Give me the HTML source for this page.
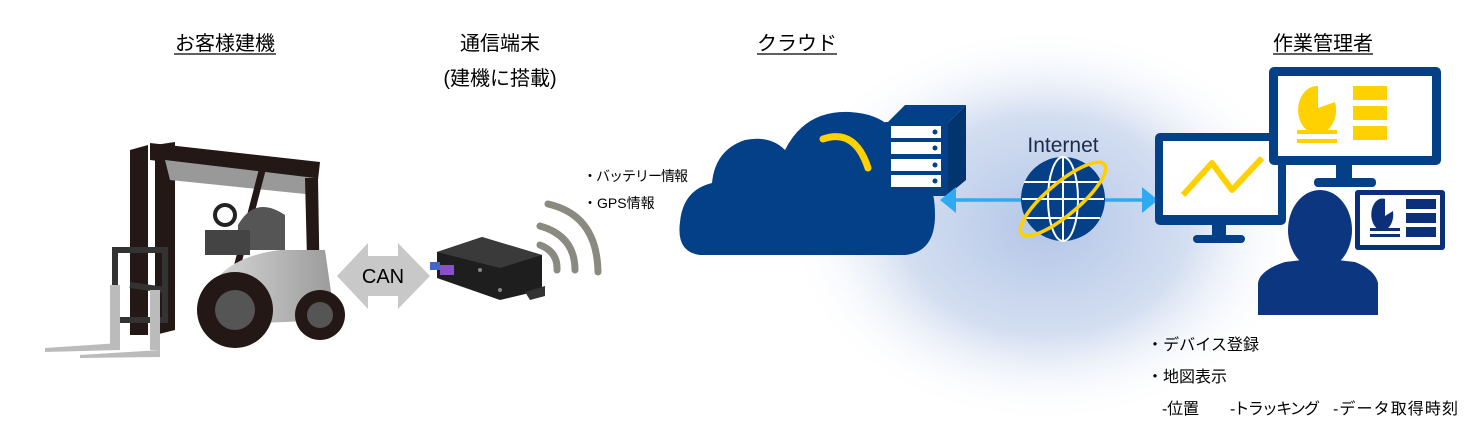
<!DOCTYPE html>
<html><head><meta charset="utf-8"><style>
html,body{margin:0;padding:0;background:#fff;}
svg{display:block;}
text{font-family:"Liberation Sans","Noto Sans CJK JP",sans-serif;fill:#000;}
</style></head><body>
<svg width="1481" height="431" viewBox="0 0 1481 431" xmlns="http://www.w3.org/2000/svg">
<defs>
<radialGradient id="glow" cx="0.5" cy="0.5" r="0.5">
<stop offset="0" stop-color="#b4c6e7"/>
<stop offset="0.55" stop-color="#d3def1"/>
<stop offset="1" stop-color="#ffffff" stop-opacity="0"/>
</radialGradient>
<linearGradient id="body" x1="0" x2="1">
<stop offset="0" stop-color="#d8d8d8"/><stop offset="1" stop-color="#9a9a9a"/>
</linearGradient>
</defs>
<ellipse cx="1045" cy="225" rx="260" ry="200" fill="url(#glow)"/>

<!-- titles -->
<g font-size="20" text-anchor="middle">
<text x="225" y="50">お客様建機</text>
<text x="500" y="50">通信端末</text>
<text x="500" y="85">(建機に搭載)</text>
<text x="797" y="50">クラウド</text>
<text x="1323" y="50">作業管理者</text>
</g>
<g stroke="#000" stroke-width="1.2">
<line x1="174" y1="54" x2="276" y2="54"/>
<line x1="757" y1="54" x2="837" y2="54"/>
<line x1="1273" y1="54" x2="1373" y2="54"/>
</g>

<!-- forklift -->
<g>
<path d="M130 150 L148 145 L148 335 L130 335Z" fill="#231815"/>
<path d="M155 145 L175 142 L175 330 L155 335Z" fill="#231815"/>
<path d="M150 143 L320 162 L318 180 L150 160Z" fill="#231815"/>
<path d="M165 160 L315 178 L315 195 L170 180Z" fill="#999"/>
<path d="M260 165 L267 165 L232 300 L225 300Z" fill="#231815"/>
<path d="M305 178 L318 178 L320 300 L308 300Z" fill="#231815"/>
<path d="M238 225 Q255 195 285 215 L285 250 L238 250Z" fill="#555"/>
<rect x="205" y="230" width="45" height="25" fill="#444"/>
<circle cx="225" cy="215" r="10" fill="none" stroke="#222" stroke-width="4"/>
<path d="M220 275 Q240 255 280 250 L325 250 L335 320 L210 325Z" fill="url(#body)"/>
<path d="M115 250 L165 250 L165 320 L115 320Z" fill="none" stroke="#333" stroke-width="6"/>
<path d="M130 285 L165 290" stroke="#333" stroke-width="6"/>
<rect x="110" y="285" width="10" height="65" fill="#bbb"/>
<rect x="150" y="290" width="10" height="60" fill="#bbb"/>
<path d="M45 348 L120 343 L120 350 L45 352Z" fill="#bbb"/>
<path d="M80 355 L160 350 L160 357 L80 358Z" fill="#bbb"/>
<circle cx="235" cy="310" r="38" fill="#231815"/>
<circle cx="235" cy="310" r="20" fill="#555"/>
<circle cx="320" cy="315" r="25" fill="#231815"/>
<circle cx="320" cy="315" r="13" fill="#555"/>
</g>

<!-- CAN arrow -->
<path d="M337 276 L368 243 L368 256 L398 256 L398 243 L430 276 L398 309 L398 296 L368 296 L368 309Z" fill="#c8c8c8"/>
<text x="383" y="283" font-size="20" text-anchor="middle">CAN</text>

<!-- device -->
<path d="M437 252 L482 237 L542 255 L542 290 L500 300 L437 278Z" fill="#1e1e1e"/>
<path d="M437 252 L482 237 L542 255 L500 268Z" fill="#3a3a3a"/>
<path d="M525 292 L545 286 L545 296 L530 300Z" fill="#333"/>
<rect x="430" y="262" width="10" height="8" fill="#4466cc"/>
<rect x="440" y="265" width="14" height="10" fill="#8a4fd0"/>
<circle cx="480" cy="270" r="2" fill="#888"/><circle cx="500" cy="290" r="2" fill="#888"/>

<!-- waves -->
<g fill="none" stroke="#8a8a80" stroke-width="7" stroke-linecap="round">
<path d="M540 245 Q558 252 557 270"/>
<path d="M540 226 Q575 236 575 270"/>
<path d="M548 204 Q597 215 598 272"/>
</g>
<text x="583" y="181" font-size="14" textLength="105">・バッテリー情報</text>
<text x="583" y="208" font-size="14">・GPS情報</text>

<!-- cloud -->
<path d="M700 255 Q676 252 680 222 Q683 190 712 183 Q715 150 745 140 Q770 135 785 150 Q805 110 850 112 Q900 115 905 160 Q935 170 935 215 Q935 252 905 255Z" fill="#034087"/>
<path d="M823 139 Q855 128 868 168" fill="none" stroke="#ffd100" stroke-width="7" stroke-linecap="round"/>
<!-- server -->
<path d="M887 123 L905 105 L966 105 L948 123Z" fill="#034087"/>
<path d="M948 123 L966 105 L966 180 L948 195Z" fill="#02346e"/>
<rect x="885" y="122" width="63" height="74" fill="#034087"/>
<g fill="#fff">
<rect x="891" y="126" width="50" height="12"/><rect x="891" y="142" width="50" height="12"/>
<rect x="891" y="159" width="50" height="12"/><rect x="891" y="175" width="50" height="12"/>
</g>
<g fill="#034087"><circle cx="935" cy="132" r="2.5"/><circle cx="935" cy="148" r="2.5"/><circle cx="935" cy="165" r="2.5"/><circle cx="935" cy="181" r="2.5"/></g>

<!-- internet arrow -->
<line x1="950" y1="200" x2="1145" y2="200" stroke="#2eaaf2" stroke-width="3.5"/>
<path d="M940 200 L956 187 L956 213Z" fill="#2eaaf2"/>
<path d="M1158 200 L1142 187 L1142 213Z" fill="#2eaaf2"/>
<text x="1063" y="152" font-size="21" text-anchor="middle" style="fill:#1e2a4a">Internet</text>
<g>
<circle cx="1063" cy="199" r="42" fill="#034087"/>
<g stroke="#fff" stroke-width="2" fill="none">
<ellipse cx="1063" cy="199" rx="15" ry="42"/>
<line x1="1063" y1="157" x2="1063" y2="241"/>
<line x1="1024" y1="182" x2="1102" y2="182"/>
<line x1="1022" y1="199" x2="1104" y2="199"/>
<line x1="1026" y1="218" x2="1100" y2="218"/>
</g>
<ellipse cx="1063" cy="199" rx="54" ry="16" transform="rotate(-40 1063 199)" fill="none" stroke="#ffd100" stroke-width="3.5"/>
</g>

<!-- monitors -->
<rect x="1155" y="133" width="131" height="92" rx="5" fill="#034087"/>
<rect x="1163" y="141" width="115" height="74" fill="#fff"/>
<rect x="1212" y="225" width="14" height="15" fill="#034087"/>
<rect x="1193" y="235" width="52" height="8" rx="4" fill="#034087"/>
<polyline points="1183,195 1212,163 1232,190 1262,158" fill="none" stroke="#ffd100" stroke-width="6" stroke-linejoin="round"/>
<rect x="1269" y="67" width="172" height="98" rx="5" fill="#034087"/>
<rect x="1278" y="76" width="154" height="80" fill="#fff"/>
<rect x="1336" y="165" width="16" height="14" fill="#034087"/>
<rect x="1314" y="178" width="62" height="9" rx="4" fill="#034087"/>
<path d="M1318 86 A19 24 0 1 0 1335 102 L1318 108Z" fill="#ffd100"/>
<g fill="#ffd100">
<rect x="1353" y="86" width="34" height="14"/><rect x="1353" y="106" width="34" height="14"/><rect x="1353" y="126" width="34" height="14"/>
<rect x="1297" y="130" width="40" height="4"/><rect x="1297" y="139" width="40" height="4"/>
</g>
<!-- tablet -->
<rect x="1355" y="190" width="90" height="60" rx="3" fill="#0c2f7a"/>
<rect x="1360" y="195" width="80" height="50" fill="#fff"/>
<path d="M1385 199 A11 16 0 1 0 1393 211 L1385 216Z" fill="#0c2f7a"/>
<g fill="#0c2f7a"><rect x="1406" y="199" width="30" height="10"/><rect x="1406" y="213" width="30" height="10"/><rect x="1406" y="227" width="30" height="10"/>
<rect x="1370" y="228" width="30" height="3"/><rect x="1370" y="234" width="30" height="3"/></g>
<!-- person -->
<ellipse cx="1320" cy="230" rx="32" ry="40" fill="#0c3680"/>
<path d="M1258 315 L1258 283 Q1260 270 1285 262 L1320 258 L1355 262 Q1375 270 1378 283 L1378 315Z" fill="#0c3680"/>

<!-- bottom text -->
<g font-size="16">
<text x="1147" y="350" textLength="112">・デバイス登録</text>
<text x="1147" y="382" textLength="80">・地図表示</text>
<text x="1162" y="414" textLength="37">-位置</text>
<text x="1230" y="414" textLength="90">-トラッキング</text>
<text x="1333" y="414" textLength="125">-データ取得時刻</text>
</g>
</svg>
</body></html>
